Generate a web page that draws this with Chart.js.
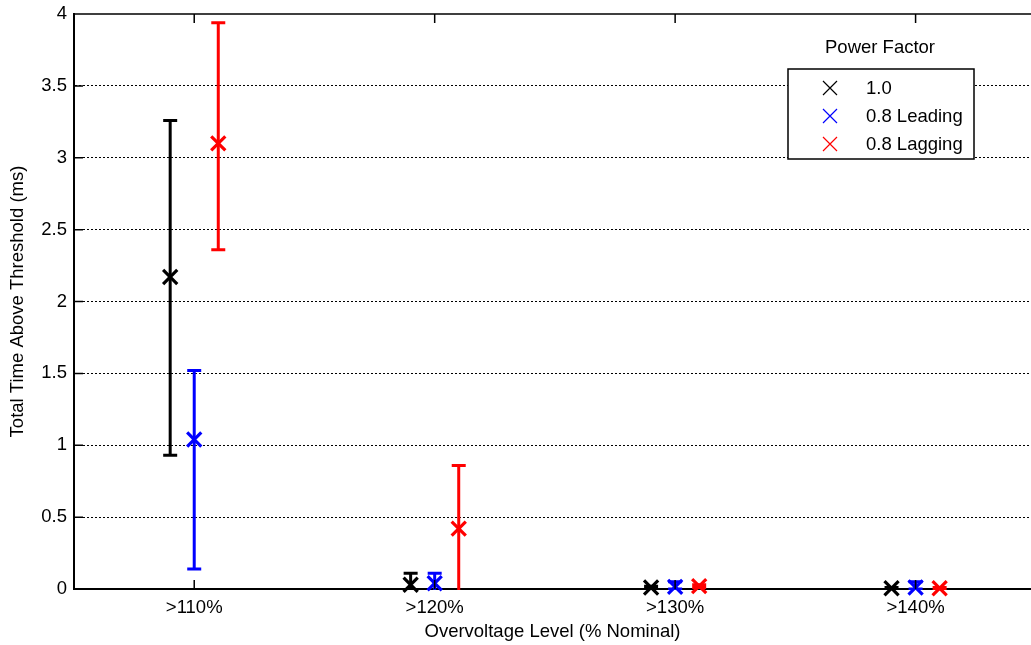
<!DOCTYPE html>
<html>
<head>
<meta charset="utf-8">
<script src="https://cdn.jsdelivr.net/npm/chart.js@4/dist/chart.umd.min.js"></script>
<style>
  body { margin: 0; background: #fff; }
  #wrap { width: 1031px; height: 645px; position: relative; }
</style>
</head>
<body>
<div id="wrap"><canvas id="errChart" width="1031" height="645"></canvas></div>
<script>
// Overvoltage categories and the tick values they sit on
const categories = ['>110%', '>120%', '>130%', '>140%'];
const categoryPos = [1, 2, 3, 4];
const yTicks = [0, 0.5, 1, 1.5, 2, 2.5, 3, 3.5, 4];

// Power factor series (mean, upper and lower error limits, ms)
const seriesNames = ['1.0', '0.8 Leading', '0.8 Lagging'];
const seriesColors = ['#000000', '#0000ff', '#ff0000'];
const seriesOffsets = [-0.1, 0, 0.1];

const unityMean = [2.17, 0.03, 0.01, 0.005];
const unityUpper = [3.26, 0.11, 0.02, 0.01];
const unityLower = [0.93, -0.03, 0.0, 0.0];

const leadingMean = [1.04, 0.04, 0.015, 0.01];
const leadingUpper = [1.52, 0.11, 0.05, 0.05];
const leadingLower = [0.14, -0.03, 0.0, 0.0];

const laggingMean = [3.10, 0.42, 0.02, 0.005];
const laggingUpper = [3.94, 0.86, 0.03, 0.01];
const laggingLower = [2.36, -0.03, 0.01, 0.0];

const means = [unityMean, leadingMean, laggingMean];
const uppers = [unityUpper, leadingUpper, laggingUpper];
const lowers = [unityLower, leadingLower, laggingLower];

const FONT = 'Liberation Sans, Arial, Helvetica, sans-serif';
const TXT = 18.5;

// Error bars drawn through the chart scales
const errorBarPlugin = {
    id: 'errorBars',
    beforeDatasetsDraw(chart) {
        const ctx = chart.ctx;
        const xs = chart.scales.x, ys = chart.scales.y;
        const area = chart.chartArea;
        ctx.save();
        ctx.beginPath();
        ctx.rect(area.left, area.top, area.right - area.left, area.bottom - area.top + 1);
        ctx.clip();
        ctx.lineWidth = 3;
        means.forEach(function(m, s) {
            ctx.strokeStyle = seriesColors[s];
            m.forEach(function(v, i) {
                const x = xs.getPixelForValue(categoryPos[i] + seriesOffsets[s]);
                const yTop = ys.getPixelForValue(uppers[s][i]);
                const yBot = ys.getPixelForValue(lowers[s][i]);
                ctx.beginPath();
                ctx.moveTo(x, yTop); ctx.lineTo(x, yBot);
                ctx.moveTo(x - 7, yTop); ctx.lineTo(x + 7, yTop);
                ctx.moveTo(x - 7, yBot); ctx.lineTo(x + 7, yBot);
                ctx.stroke();
            });
        });
        ctx.restore();
    }
};

// Box outline, inward ticks and the legend
const framePlugin = {
    id: 'frame',
    afterDraw(chart) {
        const ctx = chart.ctx;
        const xs = chart.scales.x, ys = chart.scales.y;
        const area = chart.chartArea;
        ctx.save();
        ctx.strokeStyle = '#000';
        ctx.lineWidth = 1.5;
        ctx.beginPath();
        ctx.moveTo(area.left, area.top); ctx.lineTo(area.right, area.top);
        categoryPos.forEach(function(p) {
            const x = xs.getPixelForValue(p);
            ctx.moveTo(x, area.top); ctx.lineTo(x, area.top + 9);
            ctx.moveTo(x, area.bottom); ctx.lineTo(x, area.bottom - 9);
        });
        yTicks.forEach(function(t) {
            const y = ys.getPixelForValue(t);
            ctx.moveTo(area.left, y); ctx.lineTo(area.left + 9, y);
        });
        ctx.stroke();

        // legend
        const bx = 788, by = 69, bw = 186, bh = 90;
        ctx.fillStyle = '#fff';
        ctx.fillRect(bx, by, bw, bh);
        ctx.lineWidth = 1.5;
        ctx.strokeRect(bx, by, bw, bh);
        ctx.fillStyle = '#000';
        ctx.font = TXT + 'px ' + FONT;
        ctx.textAlign = 'center';
        ctx.textBaseline = 'middle';
        ctx.fillText('Power Factor', 880, 48);
        ctx.textAlign = 'left';
        const rows = [88, 116, 144];
        seriesNames.forEach(function(name, s) {
            const y = rows[s];
            ctx.strokeStyle = seriesColors[s];
            ctx.lineWidth = 1.2;
            ctx.beginPath();
            ctx.moveTo(823, y - 7); ctx.lineTo(837, y + 7);
            ctx.moveTo(837, y - 7); ctx.lineTo(823, y + 7);
            ctx.stroke();
            ctx.fillStyle = '#000';
            ctx.fillText(name, 866, y + 1);
        });
        ctx.restore();
    }
};

function buildDatasets() {
    return means.map(function(m, s) {
        return {
            label: seriesNames[s],
            data: m.map(function(v, i) { return { x: categoryPos[i] + seriesOffsets[s], y: v }; }),
            pointStyle: 'crossRot',
            pointRadius: 10,
            pointHoverRadius: 10,
            borderWidth: 3.2,
            borderColor: seriesColors[s],
            backgroundColor: seriesColors[s],
            showLine: false,
            clip: false
        };
    });
}

function loadChart() {
    const ctx = document.getElementById('errChart').getContext('2d');
    new Chart(ctx, {
        type: 'scatter',
        data: { datasets: buildDatasets() },
        options: {
            responsive: false,
            animation: false,
            layout: { autoPadding: false, padding: { top: 14, right: 0, left: 0, bottom: 0 } },
            plugins: { legend: { display: false }, tooltip: { enabled: false } },
            scales: {
                x: {
                    type: 'linear',
                    min: 0.5,
                    max: 4.48,
                    afterBuildTicks: function(scale) {
                        scale.ticks = categoryPos.map(function(p) { return { value: p }; });
                    },
                    afterFit: function(scale) {
                        scale.height = 56;
                        scale.paddingLeft = 0;
                        scale.paddingRight = 0;
                    },
                    grid: { display: false, drawTicks: false },
                    border: { display: true, color: '#000', width: 2 },
                    ticks: {
                        color: '#000',
                        font: { family: FONT, size: TXT },
                        padding: 8,
                        maxRotation: 0,
                        callback: function(v) {
                            const i = categoryPos.indexOf(v);
                            return i >= 0 ? categories[i] : '';
                        }
                    },
                    title: {
                        display: true,
                        text: 'Overvoltage Level (% Nominal)',
                        color: '#000',
                        font: { family: FONT, size: TXT },
                        padding: { top: 0, bottom: 2 }
                    }
                },
                y: {
                    min: 0,
                    max: 4,
                    afterBuildTicks: function(scale) {
                        scale.ticks = yTicks.map(function(t) { return { value: t }; });
                    },
                    afterFit: function(scale) {
                        scale.width = 74;
                        scale.paddingTop = 0;
                        scale.paddingBottom = 0;
                    },
                    grid: {
                        drawTicks: false,
                        lineWidth: 1,
                        color: function(c) {
                            const v = c.tick ? c.tick.value : null;
                            return (v === 0 || v === 4) ? 'rgba(0,0,0,0)' : '#000';
                        }
                    },
                    border: { display: true, color: '#000', width: 2, dash: [2, 2] },
                    ticks: {
                        color: '#000',
                        font: { family: FONT, size: TXT },
                        padding: 7,
                        callback: function(v) { return String(v); }
                    },
                    title: {
                        display: true,
                        text: 'Total Time Above Threshold (ms)',
                        color: '#000',
                        font: { family: FONT, size: TXT },
                        padding: { top: 7, bottom: 0 }
                    }
                }
            }
        },
        plugins: [errorBarPlugin, framePlugin]
    });
}

window.onload = function() {
    loadChart();
};
</script>
</body>
</html>
